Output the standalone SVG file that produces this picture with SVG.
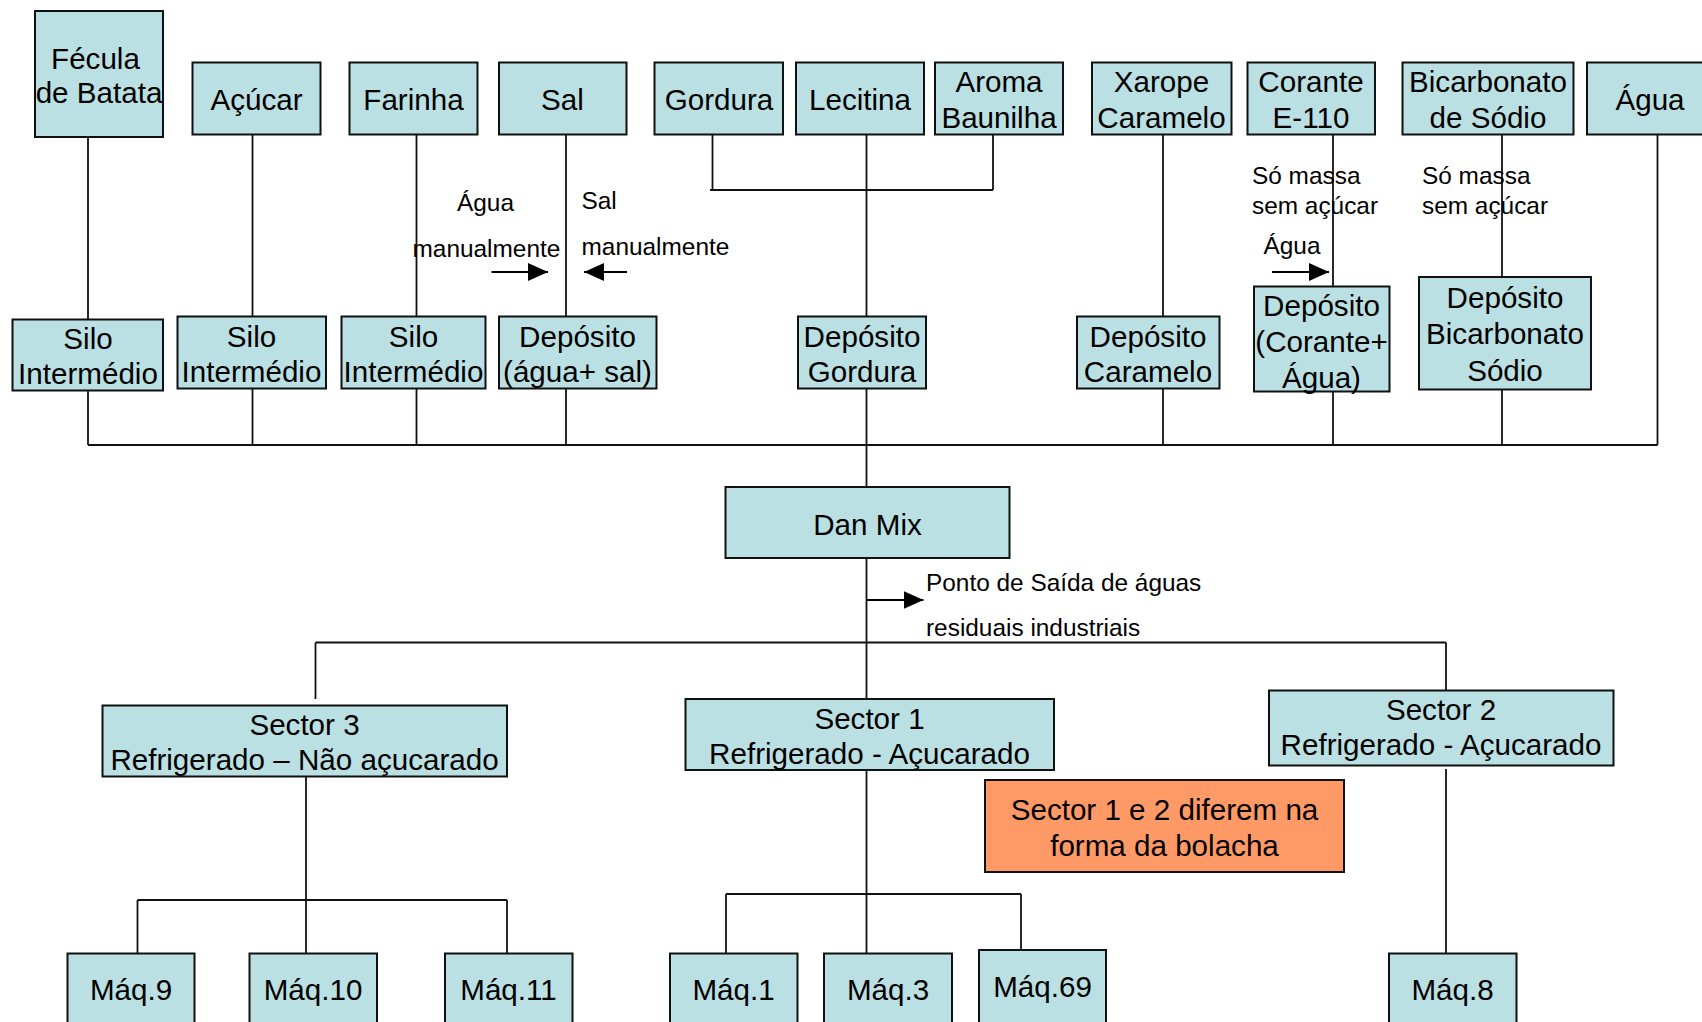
<svg xmlns="http://www.w3.org/2000/svg" width="1702" height="1022" viewBox="0 0 1702 1022">
<style>
.box{fill:#BBE0E3;stroke:#111;stroke-width:2}
.orange{fill:#FF9966;stroke:#111;stroke-width:2}
.lbl{font-family:"Liberation Sans",Arial,sans-serif;font-size:29.6px;fill:#000;text-anchor:middle}
.ann{font-family:"Liberation Sans",Arial,sans-serif;font-size:24.4px;fill:#000}
.ln{stroke:#111;stroke-width:1.8;fill:none}
.arr{stroke:#000;stroke-width:2;fill:none;marker-end:url(#ah)}
</style>
<defs>
<marker id="ah" markerUnits="userSpaceOnUse" markerWidth="20" markerHeight="20" viewBox="0 0 20 20" refX="20" refY="10" orient="auto">
<path d="M0,1 L20,10 L0,19 Z" fill="#000"/>
</marker>
</defs>
<rect width="1702" height="1022" fill="#fff"/>
<g id="connectors">
<line class="ln" x1="88" y1="137" x2="88" y2="445"/>
<line class="ln" x1="252.5" y1="134" x2="252.5" y2="445"/>
<line class="ln" x1="416.5" y1="134" x2="416.5" y2="445"/>
<line class="ln" x1="566" y1="134" x2="566" y2="445"/>
<line class="ln" x1="712.5" y1="134" x2="712.5" y2="190"/>
<line class="ln" x1="993" y1="134" x2="993" y2="190"/>
<line class="ln" x1="710" y1="190" x2="993" y2="190"/>
<line class="ln" x1="866.5" y1="134" x2="866.5" y2="487"/>
<line class="ln" x1="1163" y1="134" x2="1163" y2="445"/>
<line class="ln" x1="1333" y1="134" x2="1333" y2="445"/>
<line class="ln" x1="1502" y1="134" x2="1502" y2="445"/>
<line class="ln" x1="1657.5" y1="134" x2="1657.5" y2="445"/>
<line class="ln" x1="88" y1="445" x2="1657.5" y2="445"/>
<line class="ln" x1="866.5" y1="557" x2="866.5" y2="953"/>
<line class="ln" x1="315.5" y1="642.5" x2="1446" y2="642.5"/>
<line class="ln" x1="315.5" y1="642.5" x2="315.5" y2="699"/>
<line class="ln" x1="1446" y1="642.5" x2="1446" y2="691"/>
<line class="ln" x1="1446" y1="769" x2="1446" y2="953"/>
<line class="ln" x1="306" y1="776" x2="306" y2="953"/>
<line class="ln" x1="137.5" y1="900" x2="507" y2="900"/>
<line class="ln" x1="137.5" y1="900" x2="137.5" y2="953"/>
<line class="ln" x1="507" y1="900" x2="507" y2="953"/>
<line class="ln" x1="726" y1="894" x2="1021" y2="894"/>
<line class="ln" x1="726" y1="894" x2="726" y2="953"/>
<line class="ln" x1="1021" y1="894" x2="1021" y2="950"/>
<line class="arr" x1="491.5" y1="272" x2="548" y2="272"/>
<line class="arr" x1="627" y1="272" x2="584" y2="272"/>
<line class="arr" x1="1272" y1="272" x2="1329" y2="272"/>
<line class="arr" x1="866.5" y1="600" x2="923.5" y2="600"/>
</g>
<g id="annotations">
<text class="ann" x="457" y="211">Água</text>
<text class="ann" x="412.5" y="257">manualmente</text>
<text class="ann" x="581.5" y="209">Sal</text>
<text class="ann" x="581.5" y="255">manualmente</text>
<text class="ann" x="1252" y="184">Só massa</text>
<text class="ann" x="1252" y="214">sem açúcar</text>
<text class="ann" x="1422" y="184">Só massa</text>
<text class="ann" x="1422" y="214">sem açúcar</text>
<text class="ann" x="1263.5" y="254">Água</text>
<text class="ann" x="926" y="590.5">Ponto de Saída de águas</text>
<text class="ann" x="926" y="635.5">residuais industriais</text>
</g>
<g id="fecula"><rect class="box" x="35" y="11" width="128" height="126"/><text class="lbl" x="95.5" y="69">Fécula</text><text class="lbl" x="99" y="102.5">de Batata</text></g>
<g id="acucar"><rect class="box" x="192.5" y="62.5" width="128" height="72"/><text class="lbl" x="256.5" y="109.5">Açúcar</text></g>
<g id="farinha"><rect class="box" x="349.5" y="62.5" width="128" height="72"/><text class="lbl" x="413.5" y="109.5">Farinha</text></g>
<g id="sal"><rect class="box" x="499" y="62.5" width="127.5" height="72"/><text class="lbl" x="562.5" y="109.5">Sal</text></g>
<g id="gordura"><rect class="box" x="654.5" y="62.5" width="128.5" height="72"/><text class="lbl" x="719" y="109.5">Gordura</text></g>
<g id="lecitina"><rect class="box" x="796" y="62.5" width="128" height="72"/><text class="lbl" x="860" y="109.5">Lecitina</text></g>
<g id="aroma"><rect class="box" x="935" y="62.5" width="128" height="72"/><text class="lbl" x="999" y="92">Aroma</text><text class="lbl" x="999" y="127.5">Baunilha</text></g>
<g id="xarope"><rect class="box" x="1092" y="62.5" width="139.5" height="72"/><text class="lbl" x="1161.5" y="92">Xarope</text><text class="lbl" x="1161.5" y="127.5">Caramelo</text></g>
<g id="corante"><rect class="box" x="1247.5" y="62.5" width="127.5" height="72"/><text class="lbl" x="1311" y="92">Corante</text><text class="lbl" x="1311" y="127.5">E-110</text></g>
<g id="bicarbonato"><rect class="box" x="1402.5" y="62.5" width="171" height="72"/><text class="lbl" x="1488" y="92">Bicarbonato</text><text class="lbl" x="1488" y="127.5">de Sódio</text></g>
<g id="agua"><rect class="box" x="1587" y="62.5" width="130" height="72"/><text class="lbl" x="1650" y="109.5">Água</text></g>
<g id="silo1"><rect class="box" x="12.5" y="319.5" width="150.5" height="71"/><text class="lbl" x="88" y="349">Silo</text><text class="lbl" x="88" y="384">Intermédio</text></g>
<g id="silo2"><rect class="box" x="177.5" y="316.5" width="148.5" height="72"/><text class="lbl" x="251.5" y="347">Silo</text><text class="lbl" x="251.5" y="382">Intermédio</text></g>
<g id="silo3"><rect class="box" x="341.5" y="316.5" width="144" height="72"/><text class="lbl" x="413.5" y="347">Silo</text><text class="lbl" x="413.5" y="382">Intermédio</text></g>
<g id="deposito-agua-sal"><rect class="box" x="499" y="316.5" width="157.5" height="72"/><text class="lbl" x="577.5" y="347">Depósito</text><text class="lbl" x="577.5" y="382">(água+ sal)</text></g>
<g id="deposito-gordura"><rect class="box" x="798" y="316.5" width="128" height="72"/><text class="lbl" x="862" y="347">Depósito</text><text class="lbl" x="862" y="382">Gordura</text></g>
<g id="deposito-caramelo"><rect class="box" x="1077" y="316.5" width="142.5" height="72"/><text class="lbl" x="1148" y="347">Depósito</text><text class="lbl" x="1148" y="382">Caramelo</text></g>
<g id="deposito-corante"><rect class="box" x="1254" y="286.5" width="135.5" height="105"/><text class="lbl" x="1321.5" y="316">Depósito</text><text class="lbl" x="1321.5" y="352">(Corante+</text><text class="lbl" x="1321.5" y="387.5">Água)</text></g>
<g id="deposito-bicarbonato"><rect class="box" x="1419" y="277" width="172" height="112.5"/><text class="lbl" x="1505" y="308">Depósito</text><text class="lbl" x="1505" y="344">Bicarbonato</text><text class="lbl" x="1505" y="380.5">Sódio</text></g>
<g id="danmix"><rect class="box" x="725.5" y="487" width="284" height="71"/><text class="lbl" x="867.5" y="534.5">Dan Mix</text></g>
<g id="sector3"><rect class="box" x="102.5" y="705.5" width="404.5" height="71"/><text class="lbl" x="304.5" y="735">Sector 3</text><text class="lbl" x="304.5" y="770">Refrigerado – Não açucarado</text></g>
<g id="sector1"><rect class="box" x="685.5" y="699" width="368.5" height="71"/><text class="lbl" x="869.5" y="728.5">Sector 1</text><text class="lbl" x="869.5" y="763.5">Refrigerado - Açucarado</text></g>
<g id="sector2"><rect class="box" x="1269" y="690.5" width="344.5" height="75"/><text class="lbl" x="1441" y="720">Sector 2</text><text class="lbl" x="1441" y="755">Refrigerado - Açucarado</text></g>
<g id="nota"><rect class="orange" x="985" y="780" width="359" height="92"/><text class="lbl" x="1164.5" y="819.5">Sector 1 e 2 diferem na</text><text class="lbl" x="1164.5" y="855.5">forma da bolacha</text></g>
<g id="maq9"><rect class="box" x="67.5" y="953.5" width="127" height="80"/><text class="lbl" x="131" y="999.5">Máq.9</text></g>
<g id="maq10"><rect class="box" x="249.5" y="953.5" width="127.5" height="80"/><text class="lbl" x="313" y="999.5">Máq.10</text></g>
<g id="maq11"><rect class="box" x="445" y="953.5" width="127.5" height="80"/><text class="lbl" x="508.5" y="999.5">Máq.11</text></g>
<g id="maq1"><rect class="box" x="670" y="953.5" width="127.5" height="80"/><text class="lbl" x="733.5" y="999.5">Máq.1</text></g>
<g id="maq3"><rect class="box" x="824" y="953.5" width="128" height="80"/><text class="lbl" x="888" y="999.5">Máq.3</text></g>
<g id="maq69"><rect class="box" x="979" y="950" width="127" height="80"/><text class="lbl" x="1042.5" y="996.5">Máq.69</text></g>
<g id="maq8"><rect class="box" x="1389" y="953.5" width="127.5" height="80"/><text class="lbl" x="1452.5" y="999.5">Máq.8</text></g>
</svg>
